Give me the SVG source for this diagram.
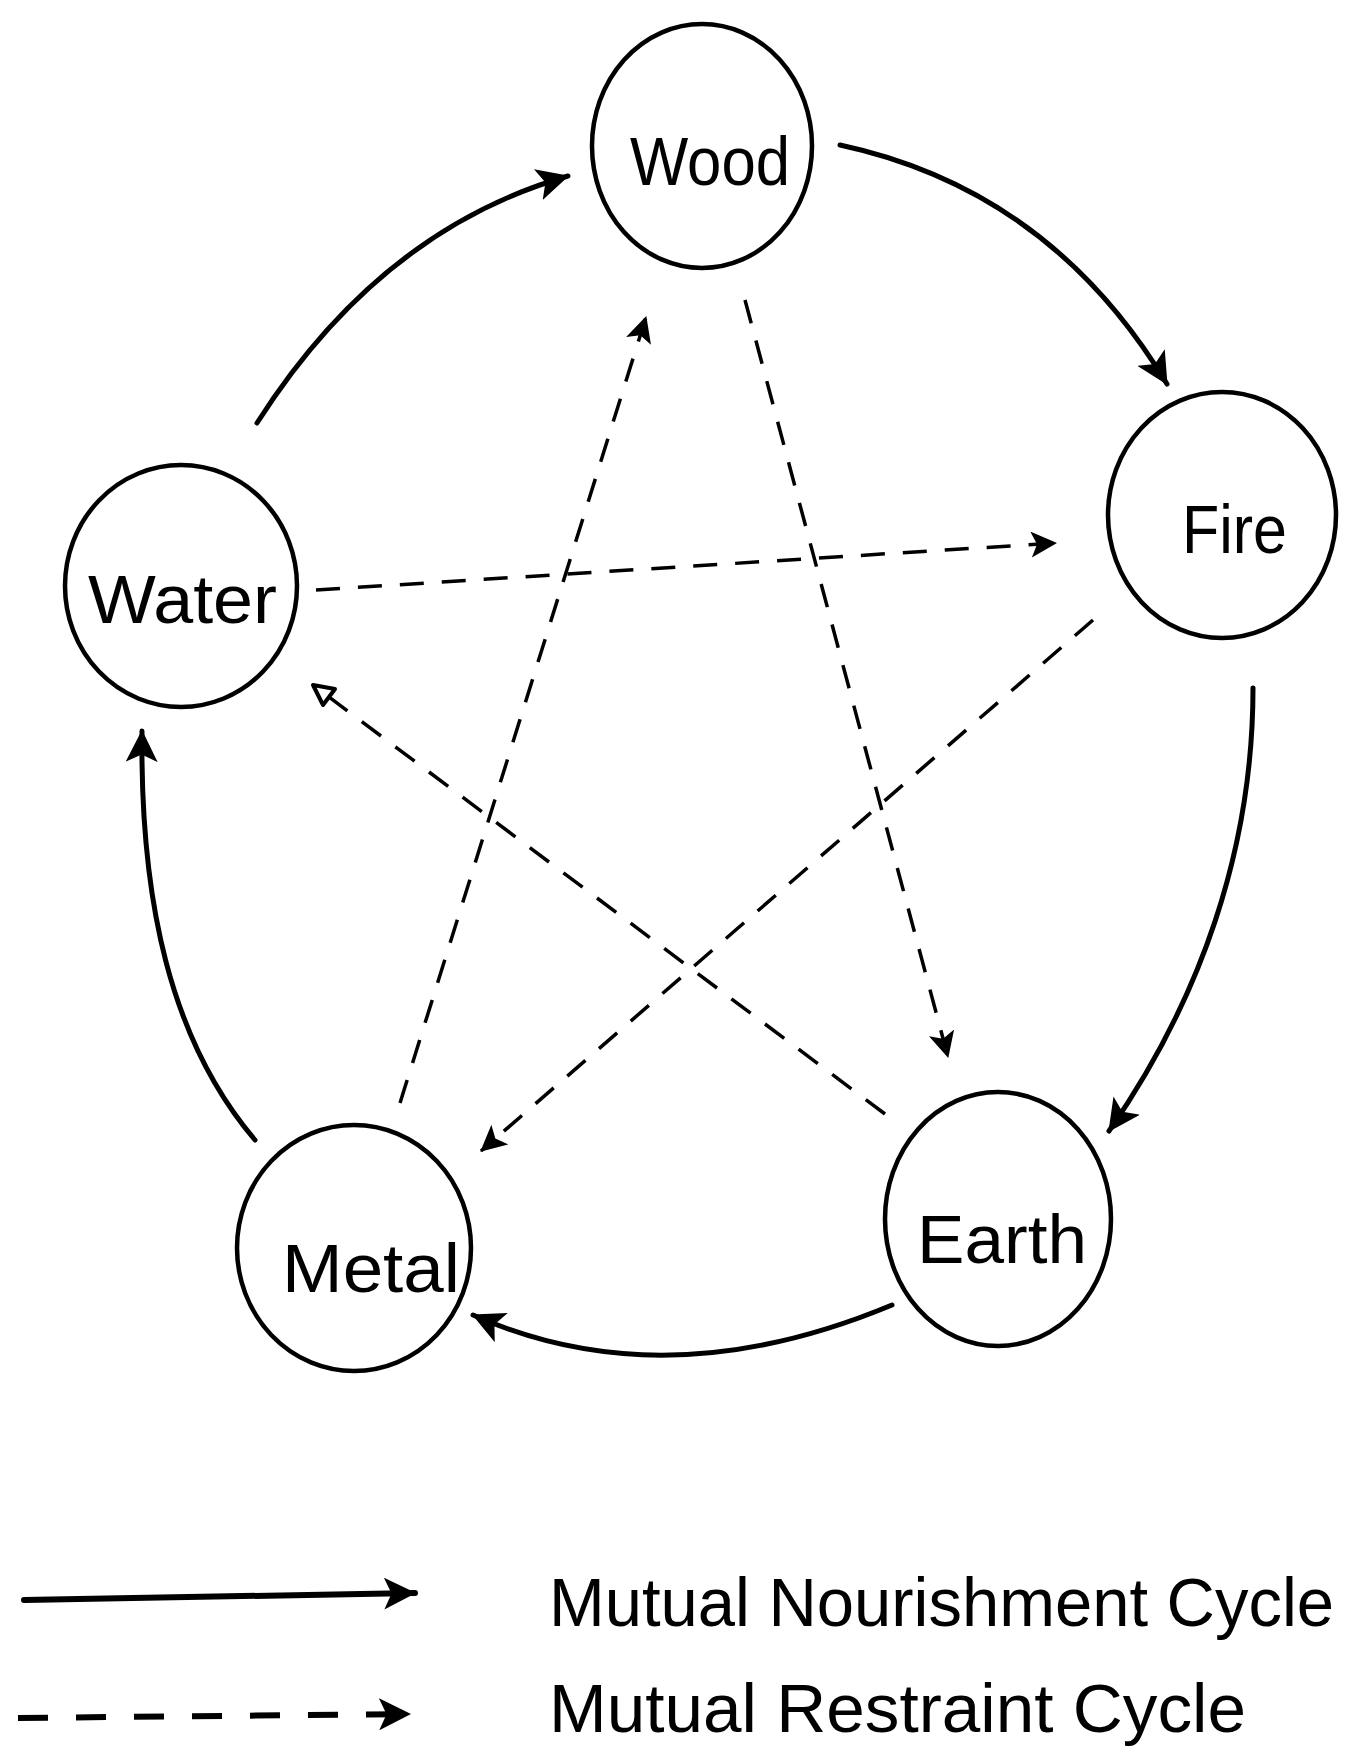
<svg xmlns="http://www.w3.org/2000/svg" width="1357" height="1752" viewBox="0 0 1357 1752">
<style>
.node{fill:#fff;stroke:#000;stroke-width:4.5}
.lbl{font-family:"Liberation Sans",Arial,sans-serif;font-size:68px;fill:#000}
.leg{font-family:"Liberation Sans",Arial,sans-serif;font-size:68px;fill:#000}
.solid{fill:none;stroke:#000;stroke-width:5;stroke-linecap:round}
.dash{fill:none;stroke:#000;stroke-width:3.5;stroke-dasharray:24 18}
</style>
<defs>
<marker id="arr" markerUnits="userSpaceOnUse" viewBox="0 0 30 30" refX="29" refY="15" markerWidth="32" markerHeight="32" orient="auto">
<path d="M0,0 L30,15 L0,30 L7,15 z" fill="#000"/>
</marker>
<marker id="arrD" markerUnits="userSpaceOnUse" viewBox="0 0 26 26" refX="25" refY="13" markerWidth="26" markerHeight="26" orient="auto">
<path d="M0,0 L26,13 L0,26 L6,13 z" fill="#000"/>
</marker>
<marker id="arrO" markerUnits="userSpaceOnUse" viewBox="-2 -2 28 28" refX="22" refY="12" markerWidth="28" markerHeight="28" orient="auto">
<path d="M2,2 L22,12 L2,22 z" fill="#fff" stroke="#000" stroke-width="4" stroke-linejoin="round"/>
</marker>
</defs>
<g id="connectors">
<path class="solid" d="M257,423 Q380,230 568,176" marker-end="url(#arr)"/>
<path class="solid" d="M840,145 Q1050,190 1167,384" marker-end="url(#arr)"/>
<path class="solid" d="M1253,688 C1253,850 1200,1000 1109,1131" marker-end="url(#arr)"/>
<path class="solid" d="M892,1305 Q664,1400 473,1315" marker-end="url(#arr)"/>
<path class="solid" d="M255,1140 C170,1040 140,900 142,731" marker-end="url(#arr)"/>
<path class="dash" d="M745,300 L948,1057" marker-end="url(#arrD)"/>
<path class="dash" d="M400,1103 L646,317" marker-end="url(#arrD)"/>
<path class="dash" d="M316,590 L1056,543" marker-end="url(#arrD)"/>
<path class="dash" d="M1093,620 L481,1151" marker-end="url(#arrD)"/>
<path class="dash" d="M885,1114 L313,685" marker-end="url(#arrO)"/>
</g>
<g id="wood">
<ellipse class="node" cx="702" cy="146" rx="110" ry="122"/>
<text class="lbl" x="630" y="185" textLength="160" lengthAdjust="spacingAndGlyphs">Wood</text>
</g>
<g id="fire">
<ellipse class="node" cx="1222" cy="515" rx="114" ry="123"/>
<text class="lbl" x="1182" y="553" textLength="105" lengthAdjust="spacingAndGlyphs">Fire</text>
</g>
<g id="water">
<ellipse class="node" cx="181" cy="586" rx="116" ry="121"/>
<text class="lbl" x="88" y="623" textLength="189" lengthAdjust="spacingAndGlyphs">Water</text>
</g>
<g id="metal">
<ellipse class="node" cx="354" cy="1248" rx="117" ry="123"/>
<text class="lbl" x="282" y="1292" textLength="178" lengthAdjust="spacingAndGlyphs">Metal</text>
</g>
<g id="earth">
<ellipse class="node" cx="998" cy="1219" rx="113" ry="127"/>
<text class="lbl" x="917" y="1263" textLength="170" lengthAdjust="spacingAndGlyphs">Earth</text>
</g>
<g id="legend">
<path d="M24,1600 L415,1593" fill="none" stroke="#000" stroke-width="6" stroke-linecap="round" marker-end="url(#arr)"/>
<path d="M18,1718 L410,1714" fill="none" stroke="#000" stroke-width="6" stroke-dasharray="30 28" marker-end="url(#arr)"/>
<text class="leg" x="549" y="1626" textLength="785" lengthAdjust="spacingAndGlyphs">Mutual Nourishment Cycle</text>
<text class="leg" x="549" y="1732" textLength="697" lengthAdjust="spacingAndGlyphs">Mutual Restraint Cycle</text>
</g>
</svg>
